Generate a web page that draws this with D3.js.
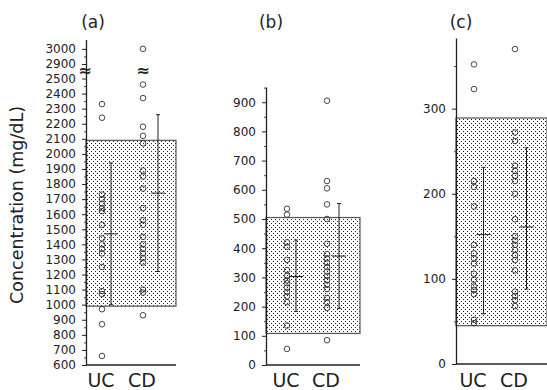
<!DOCTYPE html>
<html><head><meta charset="utf-8">
<script src="https://cdn.jsdelivr.net/npm/d3@7"></script>
<style>
body{margin:0;background:#fff;}
text{font-family:"DejaVu Sans",sans-serif;fill:#222;}
</style></head><body>
<svg id="chart" width="547" height="390"></svg>
<script>
const cats = ["UC","CD"];
const panelTitles = ["(a)","(b)","(c)"];

// Panel (a) data
const aUC = [2330,2240,1730,1700,1670,1640,1620,1530,1440,1400,1370,1340,1250,1090,1070,970,870,660];
const aCD = [3000,2460,2370,2180,2120,2070,1890,1850,1770,1640,1560,1530,1450,1400,1370,1340,1310,1280,1100,1080,930];
const aMean = [1470,1740], aLow = [1000,1220], aHigh = [1940,2260];
const aRef = [990,2090];
const aTicks = [600,700,800,900,1000,1100,1200,1300,1400,1500,1600,1700,1800,1900,2000,2100,2200,2300,2400,2500,2900,3000];

// Panel (b)
const bUC = [535,515,420,405,360,325,305,290,280,265,250,235,215,135,55];
const bCD = [905,630,605,550,500,415,380,365,350,335,320,305,290,275,260,230,215,195,85];
const bMean = [303,373], bLow = [183,194], bHigh = [428,553];
const bRef = [108,505];
const bTicks = [0,100,200,300,400,500,600,700,800,900];

// Panel (c)
const cUC = [352,323,215,208,185,140,130,124,118,106,99,91,87,82,52,48];
const cCD = [370,272,262,233,227,221,215,200,170,150,145,140,134,128,122,110,85,80,75,68];
const cMean = [152,161], cLow = [59,88], cHigh = [231,254];
const cRef = [45,289];
const cTicks = [0,100,200,300];

const svg = d3.select("#chart");
const defs = svg.append("defs");
const pat = defs.append("pattern").attr("id","dots").attr("width",4).attr("height",4).attr("patternUnits","userSpaceOnUse");
pat.append("rect").attr("width",4).attr("height",4).attr("fill","#fff");
pat.append("rect").attr("x",1).attr("y",1).attr("width",1).attr("height",1).attr("fill","#222");
pat.append("rect").attr("x",3).attr("y",3).attr("width",1).attr("height",1).attr("fill","#222");

const panels = [
  {title:panelTitles[0], uc:aUC, cd:aCD, mean:aMean, lo:aLow, hi:aHigh, ref:aRef, ticks:aTicks,
   minor:d3.range(650,2500,100).concat([2950]),
   y:d3.scaleLinear().domain([600,2500,2900,3062]).range([365,78.5,64,39.5]),
   x0:86, x1:176, px:[102,143], lx:[111,158], titleX:93, brk:true},
  {title:panelTitles[1], uc:bUC, cd:bCD, mean:bMean, lo:bLow, hi:bHigh, ref:bRef, ticks:bTicks,
   minor:d3.range(50,951,100),
   y:d3.scaleLinear().domain([0,952]).range([365,87]),
   x0:266, x1:360, px:[287,327], lx:[296,339], titleX:271},
  {title:panelTitles[2], uc:cUC, cd:cCD, mean:cMean, lo:cLow, hi:cHigh, ref:cRef, ticks:cTicks,
   minor:[50,150,250,350],
   y:d3.scaleLinear().domain([0,383]).range([364,38]),
   x0:456, x1:547, px:[474,515], lx:[483.5,526.5], titleX:461}
];

panels.forEach(p => {
  const g = svg.append("g");
  const y = p.y;
  const x = d3.scalePoint().domain(cats).range(p.px);
  const xl = d3.scalePoint().domain(cats).range(p.lx);
  // reference range box
  g.append("rect").attr("x",p.x0).attr("width",p.x1-p.x0)
    .attr("y",y(p.ref[1])).attr("height",y(p.ref[0])-y(p.ref[1]))
    .attr("fill","url(#dots)").attr("stroke","#555").attr("stroke-width",1.2);
  // points
  [p.uc,p.cd].forEach((vals,i)=>{
    g.selectAll(null).data(vals).enter().append("circle")
      .attr("cx",x(cats[i])).attr("cy",d=>y(d)).attr("r",2.8)
      .attr("fill","none").attr("stroke","#333").attr("stroke-width",0.9);
  });
  // mean +/- SD
  cats.forEach((c,i)=>{
    const lx = xl(c);
    g.append("line").attr("x1",lx).attr("x2",lx).attr("y1",y(p.hi[i])).attr("y2",y(p.lo[i])).attr("stroke","#222").attr("stroke-width",1);
    [p.hi[i],p.lo[i]].forEach(v=>g.append("line").attr("x1",lx-2).attr("x2",lx+2).attr("y1",y(v)).attr("y2",y(v)).attr("stroke","#222"));
    g.append("line").attr("x1",lx-7).attr("x2",lx+7).attr("y1",y(p.mean[i])).attr("y2",y(p.mean[i])).attr("stroke","#222").attr("stroke-width",1);
  });
  // y axis
  const ax = g.append("g").attr("transform",`translate(${p.x0},0)`)
    .call(d3.axisLeft(y).tickValues(p.ticks).tickSize(4).tickSizeOuter(0).tickPadding(6).tickFormat(d3.format("d")));
  ax.selectAll("text").style("font-size","12px").attr("font-family","DejaVu Sans");
  ax.select(".domain").attr("stroke","#222").attr("stroke-width",1.3);
  ax.selectAll(".tick line").attr("stroke","#222");
  const mx = g.append("g").attr("transform",`translate(${p.x0},0)`)
    .call(d3.axisLeft(y).tickValues(p.minor).tickSize(2).tickFormat(""));
  mx.select(".domain").remove();
  mx.selectAll(".tick line").attr("stroke","#444");
  // bottom line
  const y0 = y.range()[0];
  g.append("line").attr("x1",p.x0).attr("x2",p.x1).attr("y1",y0).attr("y2",y0).attr("stroke","#222").attr("stroke-width",1.3);
  // category labels
  cats.forEach((c,i)=>{
    g.append("text").attr("x",x(c)-1).attr("y",387).attr("text-anchor","middle")
      .style("font-size","19px").text(c);
  });
  // title
  g.append("text").attr("x",p.titleX).attr("y",28).attr("text-anchor","middle").style("font-size","17px").text(p.title);
  if (p.brk) {
    g.append("text").attr("x",p.x0-1).attr("y",76).attr("text-anchor","middle").style("font-size","16px").style("font-weight","bold").text("≈");
    g.append("text").attr("x",x("CD")).attr("y",76).attr("text-anchor","middle").style("font-size","16px").style("font-weight","bold").text("≈");
  }
});

svg.append("text").attr("transform","translate(23,205) rotate(-90)").attr("text-anchor","middle")
  .style("font-size","17.5px").text("Concentration (mg/dL)");
</script>
</body></html>
